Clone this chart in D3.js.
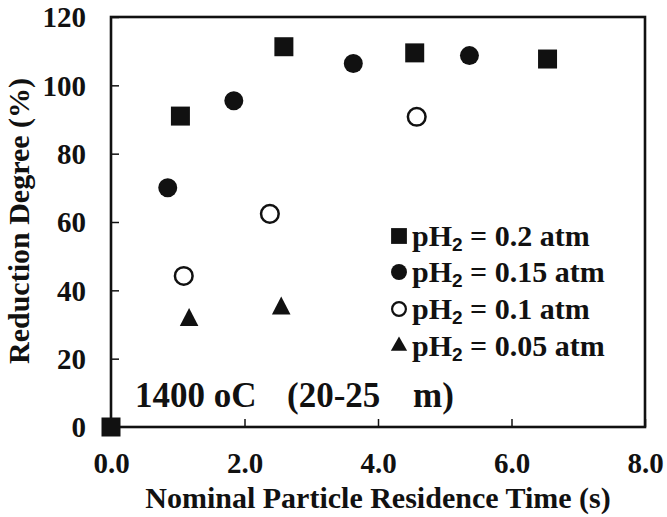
<!DOCTYPE html>
<html>
<head>
<meta charset="utf-8">
<script src="https://cdn.jsdelivr.net/npm/d3@7"></script>
<style>
  body { margin: 0; background: #fff; }
  text { font-family: "Liberation Serif", "Times New Roman", serif; font-weight: bold; fill: #111; }
</style>
</head>
<body>
<svg width="667" height="517"></svg>
<script>
// data
var seriesNames = ["0.2 atm", "0.15 atm", "0.1 atm", "0.05 atm"];
var x02 = [0, 1.04, 2.59, 4.55, 6.54];
var y02 = [0, 91.0, 111.3, 109.5, 107.7];
var x015 = [0.85, 1.84, 3.63, 5.37];
var y015 = [70.0, 95.5, 106.4, 108.7];
var x01 = [1.09, 2.38, 4.58];
var y01 = [44.2, 62.4, 90.8];
var x005 = [1.17, 2.55];
var y005 = [31.3, 34.7];
var xTicks = [0, 2, 4, 6, 8];
var yTicks = [0, 20, 40, 60, 80, 100, 120];

var svg = d3.select("svg");
var plotL = 111, plotR = 645, plotT = 17, plotB = 427;

var x = d3.scaleLinear().domain([0, 8]).range([plotL, plotR]);
var y = d3.scaleLinear().domain([0, 120]).range([plotB, plotT]);

var ink = "#111";

// y axis, ticks pointing inward
var gy = svg.append("g")
  .attr("transform", "translate(" + plotL + ",0)")
  .call(d3.axisLeft(y).tickValues(yTicks).tickSize(-8).tickPadding(25).tickFormat(d3.format("d")));
gy.select(".domain").remove();
gy.selectAll("line").attr("stroke", ink).attr("stroke-width", 1.5);
gy.selectAll("text").attr("font-size", 29).attr("dy", "0.34em").attr("fill", ink);

// x axis
var gx = svg.append("g")
  .attr("transform", "translate(0," + plotB + ")")
  .call(d3.axisBottom(x).tickValues(xTicks).tickSize(-8).tickPadding(26).tickFormat(d3.format(".1f")));
gx.select(".domain").remove();
gx.selectAll("line").attr("stroke", ink).attr("stroke-width", 1.5);
gx.selectAll("text").attr("font-size", 29).attr("dy", "0.68em").attr("fill", ink);

// frame
svg.append("rect")
  .attr("x", plotL).attr("y", plotT)
  .attr("width", plotR - plotL).attr("height", plotB - plotT)
  .attr("fill", "none").attr("stroke", ink).attr("stroke-width", 2.6);

// axis titles
svg.append("text")
  .attr("x", 378).attr("y", 508)
  .attr("text-anchor", "middle")
  .attr("font-size", 30)
  .text("Nominal Particle Residence Time (s)");

svg.append("text")
  .attr("transform", "translate(29,221) rotate(-90)")
  .attr("text-anchor", "middle")
  .attr("font-size", 30)
  .text("Reduction Degree (%)");

// annotation
svg.append("text").attr("x", 135).attr("y", 407).attr("font-size", 35).text("1400 oC");
svg.append("text").attr("x", 287).attr("y", 407).attr("font-size", 35).text("(20-25");
svg.append("text").attr("x", 413).attr("y", 407).attr("font-size", 35).text("m)");

// markers
function zip(xs, ys) {
  return xs.map(function(v, i) { return {x: v, y: ys[i]}; });
}

var sets = [
  {pts: zip(x02, y02), type: d3.symbolSquare, size: 361, fill: ink, stroke: "none", sw: 0, legSize: 250},
  {pts: zip(x015, y015), type: d3.symbolCircle, size: 283, fill: ink, stroke: "none", sw: 0, legSize: 200},
  {pts: zip(x01, y01), type: d3.symbolCircle, size: 245, fill: "#fff", stroke: ink, sw: 2.5, legSize: 150},
  {pts: zip(x005, y005), type: d3.symbolTriangle, size: 150, fill: ink, stroke: "none", sw: 0, legSize: 115}
];

sets.forEach(function(s) {
  svg.append("g").selectAll("path")
    .data(s.pts)
    .enter().append("path")
    .attr("transform", function(d) {
      var t = "translate(" + x(d.x) + "," + y(d.y) + ")";
      if (s.type === d3.symbolTriangle) t += " scale(1,1.12)";
      return t;
    })
    .attr("d", d3.symbol().type(s.type).size(s.size))
    .attr("fill", s.fill)
    .attr("stroke", s.stroke)
    .attr("stroke-width", s.sw);
});

// legend
var legY = [236, 272, 309, 346];
var leg = svg.append("g");
sets.forEach(function(s, i) {
  leg.append("path")
    .attr("transform", "translate(399," + legY[i] + ")")
    .attr("d", d3.symbol().type(s.type).size(s.legSize))
    .attr("fill", s.fill)
    .attr("stroke", s.stroke)
    .attr("stroke-width", s.sw ? 2.2 : 0);
  var t = leg.append("text")
    .attr("x", 412).attr("y", legY[i] + 10)
    .attr("font-size", 30);
  t.append("tspan").text("pH");
  t.append("tspan").attr("font-family", "Liberation Sans, Arial, sans-serif")
    .attr("font-size", 19).attr("dy", 5).text("2");
  t.append("tspan").attr("dy", -5).text(" = " + seriesNames[i]);
});
</script>
</body>
</html>
